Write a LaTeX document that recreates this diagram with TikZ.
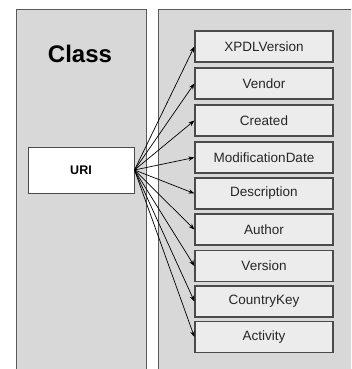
\documentclass[tikz,border=0pt]{standalone}
\usepackage{fontspec}
\setmainfont{Liberation Sans}
\usetikzlibrary{arrows.meta}
\definecolor{panelfill}{HTML}{D8D8D8}
\definecolor{panelline}{HTML}{5A5A5A}
\definecolor{boxfill}{HTML}{ECECEC}
\definecolor{boxline}{HTML}{4A4A4A}
\tikzset{
  panel/.style={draw=panelline, fill=panelfill, line width=0.9pt},
  attr/.style={draw=boxline, fill=boxfill, line width=1.2pt, minimum width=138pt, minimum height=31pt, inner sep=0pt, font=\fontsize{13.5}{15}\selectfont, text=black!85},
  uribox/.style={draw=boxline, fill=white, line width=1pt, minimum width=106pt, minimum height=46pt, inner sep=0pt, font=\bfseries\fontsize{12.5}{14}\selectfont},
  link/.style={-{Stealth[length=6pt,width=4.5pt]}, line width=0.7pt, black}
}
\begin{document}
\begin{tikzpicture}[x=1pt,y=-1pt]
\useasboundingbox (0,0) rectangle (351,369);
\begin{scope}
\clip (0,0) rectangle (351,369);
\draw[panel] (16,9) rectangle (146,380);
\draw[panel] (158,9) rectangle (360,380);
\end{scope}
\node[font=\bfseries\fontsize{24}{28}\selectfont] (cls) at (80,54) {Class};
\node[uribox] (uri) at (81,170) {URI};
\node[attr] (a1) at (264,46.5) {XPDLVersion};
\node[attr] (a2) at (264,83.5) {Vendor};
\node[attr] (a3) at (264,120.5) {Created};
\node[attr] (a4) at (264,157.5) {ModificationDate};
\node[attr] (a5) at (264,193.5) {Description};
\node[attr] (a6) at (264,229.5) {Author};
\node[attr] (a7) at (264,266) {Version};
\node[attr] (a8) at (264,301.5) {CountryKey};
\node[attr] (a9) at (264,337) {Activity};
\foreach \i in {1,...,9}{
  \draw[link] (uri.east) -- (a\i.west);
}
\end{tikzpicture}
\end{document}
